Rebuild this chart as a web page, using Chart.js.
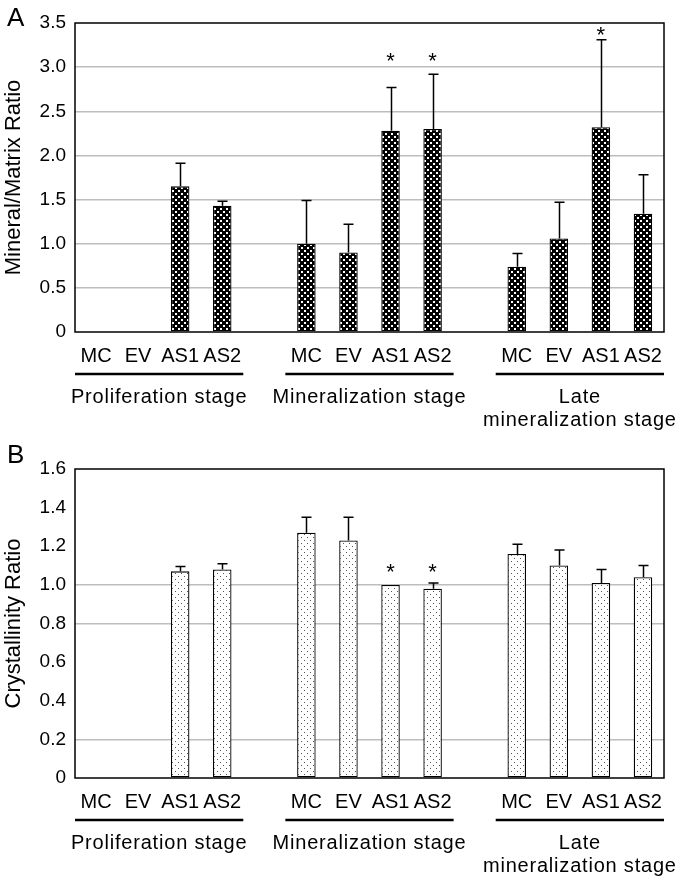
<!DOCTYPE html>
<html><head><meta charset="utf-8">
<script src="https://cdn.jsdelivr.net/npm/chart.js@4.4.0/dist/chart.umd.min.js"></script>
<style>
html,body{margin:0;padding:0;background:#fff;}
#wrap{position:relative;width:685px;height:884px;overflow:hidden;}
#cA{position:absolute;left:0;top:0;}
#cB{position:absolute;left:0;top:440px;}
</style></head><body>
<div id="wrap">
<canvas id="cA" width="685" height="440"></canvas>
<canvas id="cB" width="685" height="444"></canvas>
</div>
<script>
// ---- data ----
const categories = ['MC','EV','AS1','AS2','','MC','EV','AS1','AS2','','MC','EV','AS1','AS2'];
const groupNames = [['Proliferation stage'],['Mineralization stage'],['Late','mineralization stage']];
const groupRanges = [[0,3],[5,8],[10,13]];

const mineralMatrix    = [null,null,1.65,1.43,null,1.00,0.90,2.28,2.30,null,0.74,1.06,2.32,1.34];
const mineralMatrixSD  = [null,null,0.26,0.05,null,0.49,0.32,0.49,0.62,null,0.15,0.41,0.99,0.44];
const mineralMatrixStar= [null,null,null,null,null,null,null,3.10,3.10,null,null,null,3.40,null];
const ticksA = [0,0.5,1.0,1.5,2.0,2.5,3.0,3.5];
const gridA  = [0.5,1.0,1.5,2.0,2.5,3.0];

const crystallinity    = [null,null,1.07,1.08,null,1.27,1.23,1.00,0.98,null,1.16,1.10,1.01,1.04];
const crystallinitySD  = [null,null,0.025,0.03,null,0.08,0.12,0,0.03,null,0.05,0.08,0.07,0.06];
const crystallinityStar= [null,null,null,null,null,null,null,1.08,1.08,null,null,null,null,null];
const ticksB = [0,0.2,0.4,0.6,0.8,1.0,1.2,1.4,1.6];
const gridB  = [0.2,0.8,1.0];

const FONT = '"Liberation Sans", Arial, Helvetica, sans-serif';

function makePattern(kind){
  const c = document.createElement('canvas');
  const g = c.getContext('2d');
  if(kind==='dark'){
    c.width=6;c.height=6;
    g.fillStyle='#000';g.fillRect(0,0,6,6);
    g.fillStyle='#fff';
    g.fillRect(1,1,2,2);g.fillRect(4,4,2,2);
  } else {
    c.width=6;c.height=6;
    g.fillStyle='#fff';g.fillRect(0,0,6,6);
    g.fillStyle='#555';
    g.fillRect(1,1,1,1);g.fillRect(4,4,1,1);
  }
  return g.createPattern(c,'repeat');
}

function overlayPlugin(opts){
  return {
    id:'overlay'+opts.letter,
    afterDatasetsDraw(chart){
      const ctx = chart.ctx, a = chart.chartArea;
      const xs = chart.scales.x, ys = chart.scales.y;
      const meta = chart.getDatasetMeta(0);
      ctx.save();
      // error bars
      ctx.strokeStyle='#000'; ctx.lineWidth=1.5;
      meta.data.forEach((bar,i)=>{
        const v = opts.values[i], sd = opts.sd[i];
        if(v==null || !sd) return;
        const x = Math.round(bar.x)+0.5;
        const y0 = ys.getPixelForValue(v), y1 = ys.getPixelForValue(v+sd);
        ctx.beginPath(); ctx.moveTo(x,y0); ctx.lineTo(x,y1);
        ctx.moveTo(x-5,y1); ctx.lineTo(x+5,y1); ctx.stroke();
      });
      // stars
      ctx.fillStyle='#000';
      ctx.font='22px '+FONT; ctx.textAlign='center'; ctx.textBaseline='alphabetic';
      meta.data.forEach((bar,i)=>{
        const s = opts.stars[i];
        if(s==null) return;
        ctx.fillText('*', bar.x, ys.getPixelForValue(s)+10);
      });
      // frame
      ctx.lineWidth=1.5; ctx.strokeStyle='#000';
      ctx.strokeRect(a.left, a.top, a.right-a.left, a.bottom-a.top);
      // group underlines and names
      const half = (a.right-a.left)/categories.length/2;
      groupRanges.forEach((r,gi)=>{
        const x0 = xs.getPixelForTick(r[0])-half, x1 = xs.getPixelForTick(r[1])+half;
        ctx.lineWidth=2.5;
        ctx.beginPath(); ctx.moveTo(x0, a.bottom+42); ctx.lineTo(x1, a.bottom+42); ctx.stroke();
        ctx.font='20px '+FONT; ctx.textBaseline='middle'; ctx.textAlign='center';
        ctx.letterSpacing='0.8px';
        groupNames[gi].forEach((t,li)=>{
          ctx.fillText(t,(x0+x1)/2, a.bottom+65+li*23);
        });
        ctx.letterSpacing='0px';
      });
      // panel letter
      ctx.font='26px '+FONT; ctx.textAlign='left'; ctx.textBaseline='alphabetic';
      ctx.fillText(opts.letter, 7, opts.letterY);
      ctx.restore();
    }
  };
}

function buildChart(id, cfg){
  const ctx = document.getElementById(id).getContext('2d');
  return new Chart(ctx,{
    type:'bar',
    data:{labels:categories, datasets:[{
      data:cfg.values,
      backgroundColor:makePattern(cfg.pattern),
      borderColor:'#000', borderWidth:1.3, borderSkipped:false,
      categoryPercentage:1.0, barPercentage:0.44
    }]},
    options:{
      responsive:false, animation:false,
      layout:{padding:{top:cfg.top,right:21,left:0,bottom:0}},
      plugins:{legend:{display:false},tooltip:{enabled:false}},
      scales:{
        x:{
          grid:{display:false,drawTicks:false},
          border:{display:false},
          ticks:{color:'#000',font:{family:FONT,size:20},padding:12,maxRotation:0,autoSkip:false},
          afterFit:s=>{s.height=cfg.xh;}
        },
        y:{
          min:0,max:cfg.max,
          afterBuildTicks:s=>{s.ticks=cfg.ticks.map(v=>({value:v}));},
          grid:{drawTicks:false,lineWidth:1.5,
                color:c=> cfg.grid.includes(c.tick && c.tick.value) ? '#bdbdbd' : 'rgba(0,0,0,0)'},
          border:{display:false},
          ticks:{color:'#000',font:{family:FONT,size:19},padding:9,
                 callback:v=> v===0 ? '0' : Number(v).toFixed(1)},
          title:{display:true,text:cfg.title,color:'#000',font:{family:FONT,size:22},padding:{top:1,bottom:0}},
          afterFit:s=>{s.width=75;}
        }
      }
    },
    plugins:[overlayPlugin({values:cfg.values,sd:cfg.sd,stars:cfg.stars,letter:cfg.letter,letterY:cfg.letterY})]
  });
}

buildChart('cA',{values:mineralMatrix,sd:mineralMatrixSD,stars:mineralMatrixStar,pattern:'dark',
  top:23,xh:108,max:3.5,ticks:ticksA,grid:gridA,title:'Mineral/Matrix Ratio',letter:'A',letterY:26});
buildChart('cB',{values:crystallinity,sd:crystallinitySD,stars:crystallinityStar,pattern:'light',
  top:29,xh:106,max:1.6,ticks:ticksB,grid:gridB,title:'Crystallinity Ratio',letter:'B',letterY:23});
</script>
</body></html>
